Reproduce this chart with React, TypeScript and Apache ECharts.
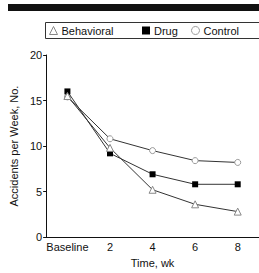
import React, { useEffect, useRef } from "react";
import * as echarts from "echarts";

const categories = ["Baseline", "2", "4", "6", "8"];
const behavioral = [15.5, 9.8, 5.2, 3.6, 2.8];
const drug = [16.0, 9.2, 6.9, 5.8, 5.8];
const control = [15.4, 10.8, 9.5, 8.4, 8.2];
const yTicks = [0, 5, 10, 15, 20];

const FONT = "Liberation Sans";

export default function App() {
  const ref = useRef<HTMLDivElement>(null);
  useEffect(() => {
    const chart = echarts.init(ref.current!, undefined, { renderer: "svg" });
    const lineStyle = { color: "#333", width: 1 };
    const legendBase = {
      top: 25,
      itemWidth: 8,
      itemHeight: 8,
      itemGap: 5,
      padding: 0,
      textStyle: { fontFamily: FONT, fontSize: 11, color: "#111", padding: [0, 0, 0, -1] },
      selectedMode: false as const,
    };
    chart.setOption({
      animation: false,
      textStyle: { fontFamily: FONT },
      graphic: [
        { type: "rect", shape: { x: 8, y: 4, width: 252, height: 7 }, style: { fill: "#111" } },
        {
          type: "rect",
          shape: { x: 45.5, y: 22.5, width: 220, height: 16 },
          style: { fill: "none", stroke: "#333", lineWidth: 1 },
        },
      ],
      legend: [
        {
          ...legendBase,
          left: 49,
          data: [{ name: "Behavioral", icon: "triangle", itemStyle: { color: "#fff", borderColor: "#888", borderWidth: 1 } }],
        },
        {
          ...legendBase,
          left: 142,
          data: [{ name: "Drug", icon: "rect", itemStyle: { color: "#000", borderColor: "#000", borderWidth: 0 } }],
        },
        {
          ...legendBase,
          left: 191,
          data: [{ name: "Control", icon: "circle", itemStyle: { color: "#fff", borderColor: "#999", borderWidth: 1 } }],
        },
      ],
      grid: { left: 46, right: -4, top: 55, bottom: 33, containLabel: false },
      xAxis: {
        type: "category",
        data: categories,
        boundaryGap: true,
        name: "Time, wk",
        nameLocation: "middle",
        nameGap: 19,
        nameTextStyle: { fontFamily: FONT, fontSize: 11, color: "#111" },
        axisLine: { lineStyle: { color: "#111", width: 1 } },
        axisTick: { alignWithLabel: true, interval: 0, length: 3, lineStyle: { color: "#111" } },
        axisLabel: { interval: 0, fontFamily: FONT, fontSize: 11, color: "#111", margin: 4 },
        splitLine: { show: false },
      },
      yAxis: {
        type: "value",
        min: 0,
        max: 20,
        interval: 5,
        name: "Accidents per Week, No.",
        nameLocation: "middle",
        nameGap: 20,
        nameTextStyle: { fontFamily: FONT, fontSize: 11, color: "#111" },
        axisLine: { show: true, lineStyle: { color: "#111", width: 1 } },
        axisTick: { show: true, length: 3, lineStyle: { color: "#111" } },
        axisLabel: {
          fontFamily: FONT,
          fontSize: 11,
          color: "#111",
          margin: 4,
          formatter: (v: number) => (yTicks.includes(v) ? String(v) : ""),
        },
        splitLine: { show: false },
      },
      series: [
        {
          name: "Control",
          type: "line",
          data: control,
          symbol: "circle",
          symbolSize: 6,
          lineStyle,
          itemStyle: { color: "#fff", borderColor: "#999", borderWidth: 1 },
          z: 2,
        },
        {
          name: "Drug",
          type: "line",
          data: drug,
          symbol: "rect",
          symbolSize: 6,
          lineStyle,
          itemStyle: { color: "#000", borderColor: "#000", borderWidth: 0 },
          z: 3,
        },
        {
          name: "Behavioral",
          type: "line",
          data: behavioral,
          symbol: "triangle",
          symbolSize: 7,
          lineStyle,
          itemStyle: { color: "#fff", borderColor: "#888", borderWidth: 1 },
          z: 4,
        },
      ],
    });
    return () => chart.dispose();
  }, []);
  return (
    <div
      ref={ref}
      style={{ position: "absolute", left: 0, top: 0, width: 259, height: 273 }}
    />
  );
}
